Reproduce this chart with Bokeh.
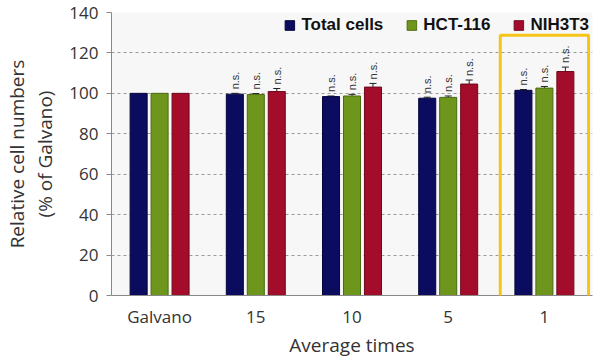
import math
from bokeh.plotting import figure
from bokeh.models import (ColumnDataSource, FactorRange, Whisker, TeeHead, Legend, LegendItem,
                          Label, LinearAxis, FixedTicker)
from bokeh.transform import dodge
from bokeh.core.properties import value
from bokeh.embed import file_html
from bokeh.resources import INLINE

categories = ["Galvano", "15", "10", "5", "1"]
series_names = ["Total cells", "HCT-116", "NIH3T3"]
total_cells = [100, 99.6, 98.4, 97.6, 101.5]
hct116 = [100, 99.4, 98.7, 98.0, 102.6]
nih3t3 = [100, 100.9, 103.1, 104.6, 110.8]
total_err = [0, 0.4, 0.3, 0.5, 0.4]
hct_err = [0, 0.5, 0.8, 0.7, 0.8]
nih_err = [0, 1.5, 1.8, 2.0, 2.2]
sig_labels = ["", "n.s.", "n.s.", "n.s.", "n.s."]
y_ticks = [0, 20, 40, 60, 80, 100, 120, 140]
highlighted = "1"
y_title_lines = ["Relative cell numbers", "(% of Galvano)"]
x_title = "Average times"

colors = ["#0b0b5f", "#6e961d", "#a30d2b"]
edges = ["#05053a", "#4c6a12", "#70081c"]
offsets = [-0.218, 0.0, 0.218]
series_vals = [total_cells, hct116, nih3t3]
series_errs = [total_err, hct_err, nih_err]

FONT = "Open Sans"

p = figure(x_range=FactorRange(*categories, range_padding=0), y_range=(0, 140),
           width=600, height=360, output_backend="svg", toolbar_location=None,
           min_border_left=111, min_border_right=8, min_border_top=12, min_border_bottom=62)
p.background_fill_color = "#f7f7f7"
p.border_fill_color = "white"
p.outline_line_color = None

legend_items = []
for name, vals, errs, col, edge, off in zip(series_names, series_vals, series_errs, colors, edges, offsets):
    src = ColumnDataSource(dict(x=categories, top=vals))
    r = p.vbar(x=dodge("x", off, range=p.x_range), top="top", width=0.177, source=src,
               fill_color=col, line_color=edge, line_width=1)
    legend_items.append(LegendItem(label=name, renderers=[r]))
    xs = [c for c, e in zip(categories, errs) if e > 0]
    lo = [v for v, e in zip(vals, errs) if e > 0]
    up = [v + e for v, e in zip(vals, errs) if e > 0]
    lab = [s for s, e in zip(sig_labels, errs) if e > 0]
    wsrc = ColumnDataSource(dict(x=xs, lower=lo, upper=up, lab=lab))
    w = Whisker(base=dodge("x", off, range=p.x_range), lower="lower", upper="upper", source=wsrc,
                line_color="#222222", line_width=1,
                upper_head=TeeHead(size=7, line_color="#222222", line_width=1), lower_head=None)
    p.add_layout(w)
    p.text(x=dodge("x", off, range=p.x_range), y="upper", text="lab", source=wsrc,
           angle=math.pi / 2, text_align="left", text_baseline="middle", y_offset=-4,
           text_font=value("Liberation Sans"), text_font_size="11px", text_color="#333333")

legend = Legend(items=legend_items, orientation="horizontal", location="top_right",
                label_text_font="Liberation Sans", label_text_font_style="bold",
                label_text_font_size="17px",
                label_text_color="#111111", glyph_width=12, glyph_height=12, label_standoff=6,
                spacing=22, padding=0, margin=3, background_fill_alpha=0, border_line_color=None)
p.add_layout(legend)

# highlight frame around the last group (extends below the axis)
hl = Label(x=categories.index(highlighted) + 0.5, y=128.7, text=" ", text_font_size="1px",
           text_align="center", text_baseline="top",
           border_line_color="#f5c518", border_line_width=3, border_line_alpha=1.0,
           background_fill_color=None, padding=(44, 44, 0, 297))
p.add_layout(hl)

p.xgrid.grid_line_color = None
p.ygrid.grid_line_color = "#9a9a9a"
p.ygrid.grid_line_dash = "3 3"
p.ygrid.grid_line_width = 1
p.yaxis.ticker = y_ticks

p.yaxis.axis_line_color = "#888888"
p.yaxis.major_tick_line_color = "#888888"
p.yaxis.major_tick_out = 5
p.yaxis.major_tick_in = 0
p.yaxis.minor_tick_line_color = None
p.yaxis.major_label_text_font = FONT
p.yaxis.major_label_text_font_size = "17px"
p.yaxis.major_label_text_color = "#333333"
p.yaxis.major_label_standoff = 8
p.yaxis.axis_label = y_title_lines[1]
p.yaxis.axis_label_text_font = FONT
p.yaxis.axis_label_text_font_size = "19px"
p.yaxis.axis_label_text_font_style = "normal"
p.yaxis.axis_label_text_color = "#333333"
p.yaxis.axis_label_standoff = 8

ax2 = LinearAxis(ticker=FixedTicker(ticks=[]), axis_line_color=None, major_tick_line_color=None,
                 minor_tick_line_color=None, major_tick_out=0, major_tick_in=0,
                 minor_tick_out=0, minor_tick_in=0, major_label_standoff=0,
                 axis_label=y_title_lines[0],
                 axis_label_text_font=FONT, axis_label_text_font_size="19px",
                 axis_label_text_font_style="normal", axis_label_text_color="#333333",
                 axis_label_text_line_height=0.9, axis_label_standoff=0)
p.add_layout(ax2, "left")

p.xaxis.axis_line_color = "#888888"
p.xaxis.major_tick_line_color = None
p.xaxis.major_tick_out = 0
p.xaxis.major_label_text_font = FONT
p.xaxis.major_label_text_font_size = "17px"
p.xaxis.major_label_text_color = "#333333"
p.xaxis.major_label_standoff = 9
p.xaxis.axis_label = x_title
p.xaxis.axis_label_text_font = FONT
p.xaxis.axis_label_text_font_size = "19px"
p.xaxis.axis_label_text_font_style = "normal"
p.xaxis.axis_label_text_color = "#333333"
p.xaxis.axis_label_standoff = 1

open("out.html", "w").write(file_html(p, INLINE))
